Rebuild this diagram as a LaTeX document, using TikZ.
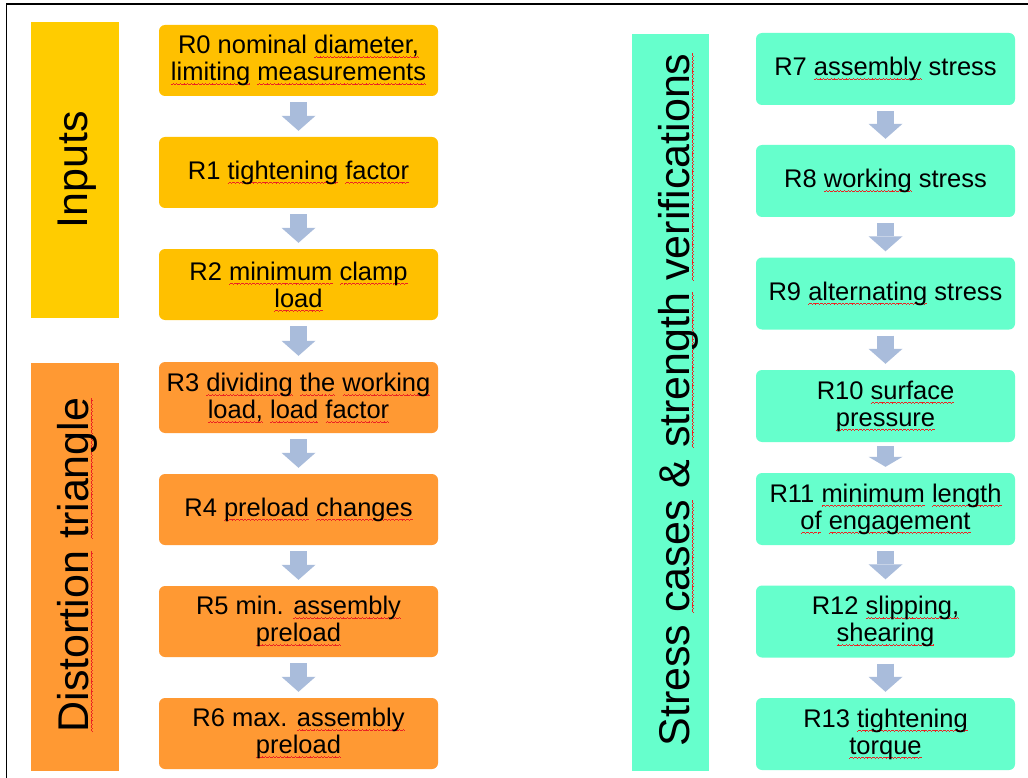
\documentclass[tikz,border=0pt]{standalone}
\usepackage{fontspec}
\setmainfont{Liberation Sans}
\usetikzlibrary{arrows.meta}
\definecolor{yelbox}{RGB}{255,192,0}
\definecolor{yelbar}{RGB}{255,204,0}
\definecolor{orng}{RGB}{255,153,51}
\definecolor{grn}{RGB}{102,255,204}
\definecolor{arrowc}{RGB}{169,188,219}
\definecolor{wavered}{RGB}{235,35,35}
\newsavebox\sqbox
\newsavebox\wavecell
\setbox\wavecell\hbox{\vrule width0.9pt height0.15pt depth0.45pt\vrule width0.9pt height0.75pt depth-0.15pt\vrule width0.9pt height1.35pt depth-0.75pt\vrule width0.9pt height0.75pt depth-0.15pt}
\newcommand\sq[1]{\sbox\sqbox{#1}\rlap{\raisebox{-4pt}[0pt][0pt]{\hbox to\wd\sqbox{\color{wavered}\xleaders\copy\wavecell\hfill}}}\usebox\sqbox\relax}
\begin{document}
\begin{tikzpicture}[x=1pt,y=-1pt,
  boxtext/.style={align=center, inner sep=0pt, rounded corners=6pt,
    font=\fontsize{25.5}{27}\selectfont},
  lbox/.style={boxtext, minimum width=279pt, minimum height=71pt},
  rbox/.style={boxtext, fill=grn, minimum width=259pt, minimum height=72pt},
  bar/.style={inner sep=0pt},
  vlabel/.style={rotate=90, inner sep=0pt, font=\fontsize{43}{50}\selectfont},
  flow/.style={line width=17pt, draw=arrowc, shorten <=6pt, shorten >=6pt,
    -{Triangle[width=34pt,length=15pt,line width=0pt]}},
  shortflow/.style={line width=17pt, draw=arrowc, shorten <=4pt, shorten >=6pt,
    -{Triangle[width=34pt,length=10pt,line width=0pt]}}
]
\useasboundingbox (0,0) rectangle (1028,778);
\fill[white] (0,0) rectangle (1028,778);
\draw[line width=1.4pt] (6.5,778) -- (6.5,4) -- (1028,4);

% side bars
\node[bar, fill=yelbar, minimum width=88pt, minimum height=296pt] (inbar) at (75,170) {};
\node[bar, fill=orng, minimum width=88pt, minimum height=408pt] (dtbar) at (75,567) {};
\node[bar, fill=grn, minimum width=77pt, minimum height=737pt] (scbar) at (670.5,402.5) {};
\node[vlabel] (inlab) at (77,170) {Inputs};
\node[vlabel] (dtlab) at (77,565) {\sq{Distortion} \sq{triangle}};
\node[vlabel] (sclab) at (678,400) {Stress \sq{cases} \& \sq{strength} \sq{verifications}};

% left column
\node[lbox, fill=yelbox] (r0) at (298.5,60.5) {R0 nominal \sq{diameter,}\\\sq{limiting} \sq{measurements}};
\node[lbox, fill=yelbox] (r1) at (298.5,172.5) {R1 \sq{tightening} \sq{factor}};
\node[lbox, fill=yelbox] (r2) at (298.5,284.5) {R2 \sq{minimum} \sq{clamp}\\\sq{load}};
\node[lbox, fill=orng] (r3) at (298.5,397.5) {R3 \sq{dividing} \sq{the} \sq{working}\\\sq{load,} \sq{load} \sq{factor}};
\node[lbox, fill=orng] (r4) at (298.5,509.5) {R4 \sq{preload} \sq{changes}};
\node[lbox, fill=orng] (r5) at (298.5,621.5) {R5 min. \sq{assembly}\\\sq{preload}};
\node[lbox, fill=orng] (r6) at (298.5,733.5) {R6 max. \sq{assembly}\\\sq{preload}};

% right column
\node[rbox] (r7) at (885.5,69) {R7 \sq{assembly} stress};
\node[rbox] (r8) at (885.5,181) {R8 \sq{working} stress};
\node[rbox] (r9) at (885.5,293.5) {R9 \sq{alternating} stress};
\node[rbox] (r10) at (885.5,406) {R10 \sq{surface}\\\sq{pressure}};
\node[rbox] (r11) at (885.5,509) {R11 \sq{minimum} \sq{length}\\\sq{of} \sq{engagement}};
\node[rbox] (r12) at (885.5,621.5) {R12 \sq{slipping,}\\\sq{shearing}};
\node[rbox] (r13) at (885.5,734) {R13 \sq{tightening}\\\sq{torque}};

% arrows
\foreach \a/\b in {r0/r1,r1/r2,r2/r3,r3/r4,r4/r5,r5/r6,r7/r8,r8/r9,r9/r10,r11/r12,r12/r13}
  \draw[flow] (\a.south) -- (\b.north);
\draw[shortflow] (r10.south) -- (r11.north);
\end{tikzpicture}
\end{document}
